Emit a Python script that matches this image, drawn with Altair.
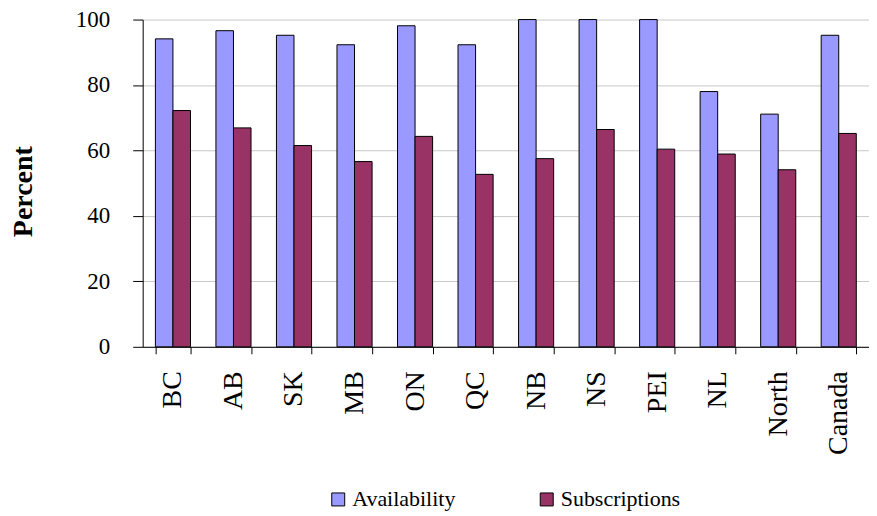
import altair as alt
import pandas as pd

regions = ["BC", "AB", "SK", "MB", "ON", "QC", "NB", "NS", "PEI", "NL", "North", "Canada"]
availability = [94.1, 96.6, 95.2, 92.3, 98.1, 92.3, 100, 100, 100, 78.0, 71.1, 95.2]
subscriptions = [72.2, 66.9, 61.5, 56.6, 64.3, 52.7, 57.5, 66.4, 60.4, 58.9, 54.1, 65.2]
series = ["Availability", "Subscriptions"]
colors = ["#9999FF", "#993366"]

rows = []
for r, a, s in zip(regions, availability, subscriptions):
    rows.append({"Region": r, "Series": series[0], "Value": a})
    rows.append({"Region": r, "Series": series[1], "Value": s})
df = pd.DataFrame(rows)

FONT = "Liberation Serif"

chart = alt.Chart(df).mark_bar(stroke="#000000", strokeWidth=1).encode(
    x=alt.X(
        "Region:N",
        sort=regions,
        scale=alt.Scale(paddingInner=0.42, paddingOuter=0.21),
        axis=alt.Axis(
            title=None,
            labelAngle=-90,
            labelFont=FONT,
            labelFontSize=28,
            labelColor="#000000",
            labelPadding=17,
            tickSize=7,
            tickColor="#000000",
            tickBand="extent",
            domainColor="#000000",
            grid=False,
        ),
    ),
    xOffset=alt.XOffset("Series:N", sort=series, scale=alt.Scale(paddingInner=0, paddingOuter=0)),
    y=alt.Y(
        "Value:Q",
        scale=alt.Scale(domain=[0, 100], nice=False),
        axis=alt.Axis(
            title="Percent",
            titleFont=FONT,
            titleFontSize=28,
            titleFontWeight="bold",
            titleColor="#000000",
            titlePadding=38,
            titleY=172,
            values=[0, 20, 40, 60, 80, 100],
            labelFont=FONT,
            labelFontSize=23,
            labelColor="#000000",
            labelPadding=23,
            tickSize=10,
            tickColor="#000000",
            domainColor="#000000",
            gridColor="#C8C8C8",
            gridWidth=1,
        ),
    ),
    color=alt.Color(
        "Series:N",
        sort=series,
        scale=alt.Scale(domain=series, range=colors),
        legend=alt.Legend(
            title=None,
            orient="none",
            direction="horizontal",
            legendX=185,
            legendY=470,
            symbolType="square",
            symbolSize=169,
            symbolStrokeColor="#000000",
            symbolStrokeWidth=1,
            labelFont=FONT,
            labelFontSize=22,
            labelColor="#000000",
            labelOffset=3,
            columnPadding=80,
            padding=0,
        ),
    ),
).properties(
    width=728,
    height=328,
    autosize=alt.AutoSizeParams(type="none"),
    padding={"left": 135, "top": 11, "right": 0, "bottom": 168},
).configure_view(
    stroke=None
).configure_axis(
    domainWidth=1
)

chart.save("out.html", embed_options={"renderer": "svg", "actions": False})
